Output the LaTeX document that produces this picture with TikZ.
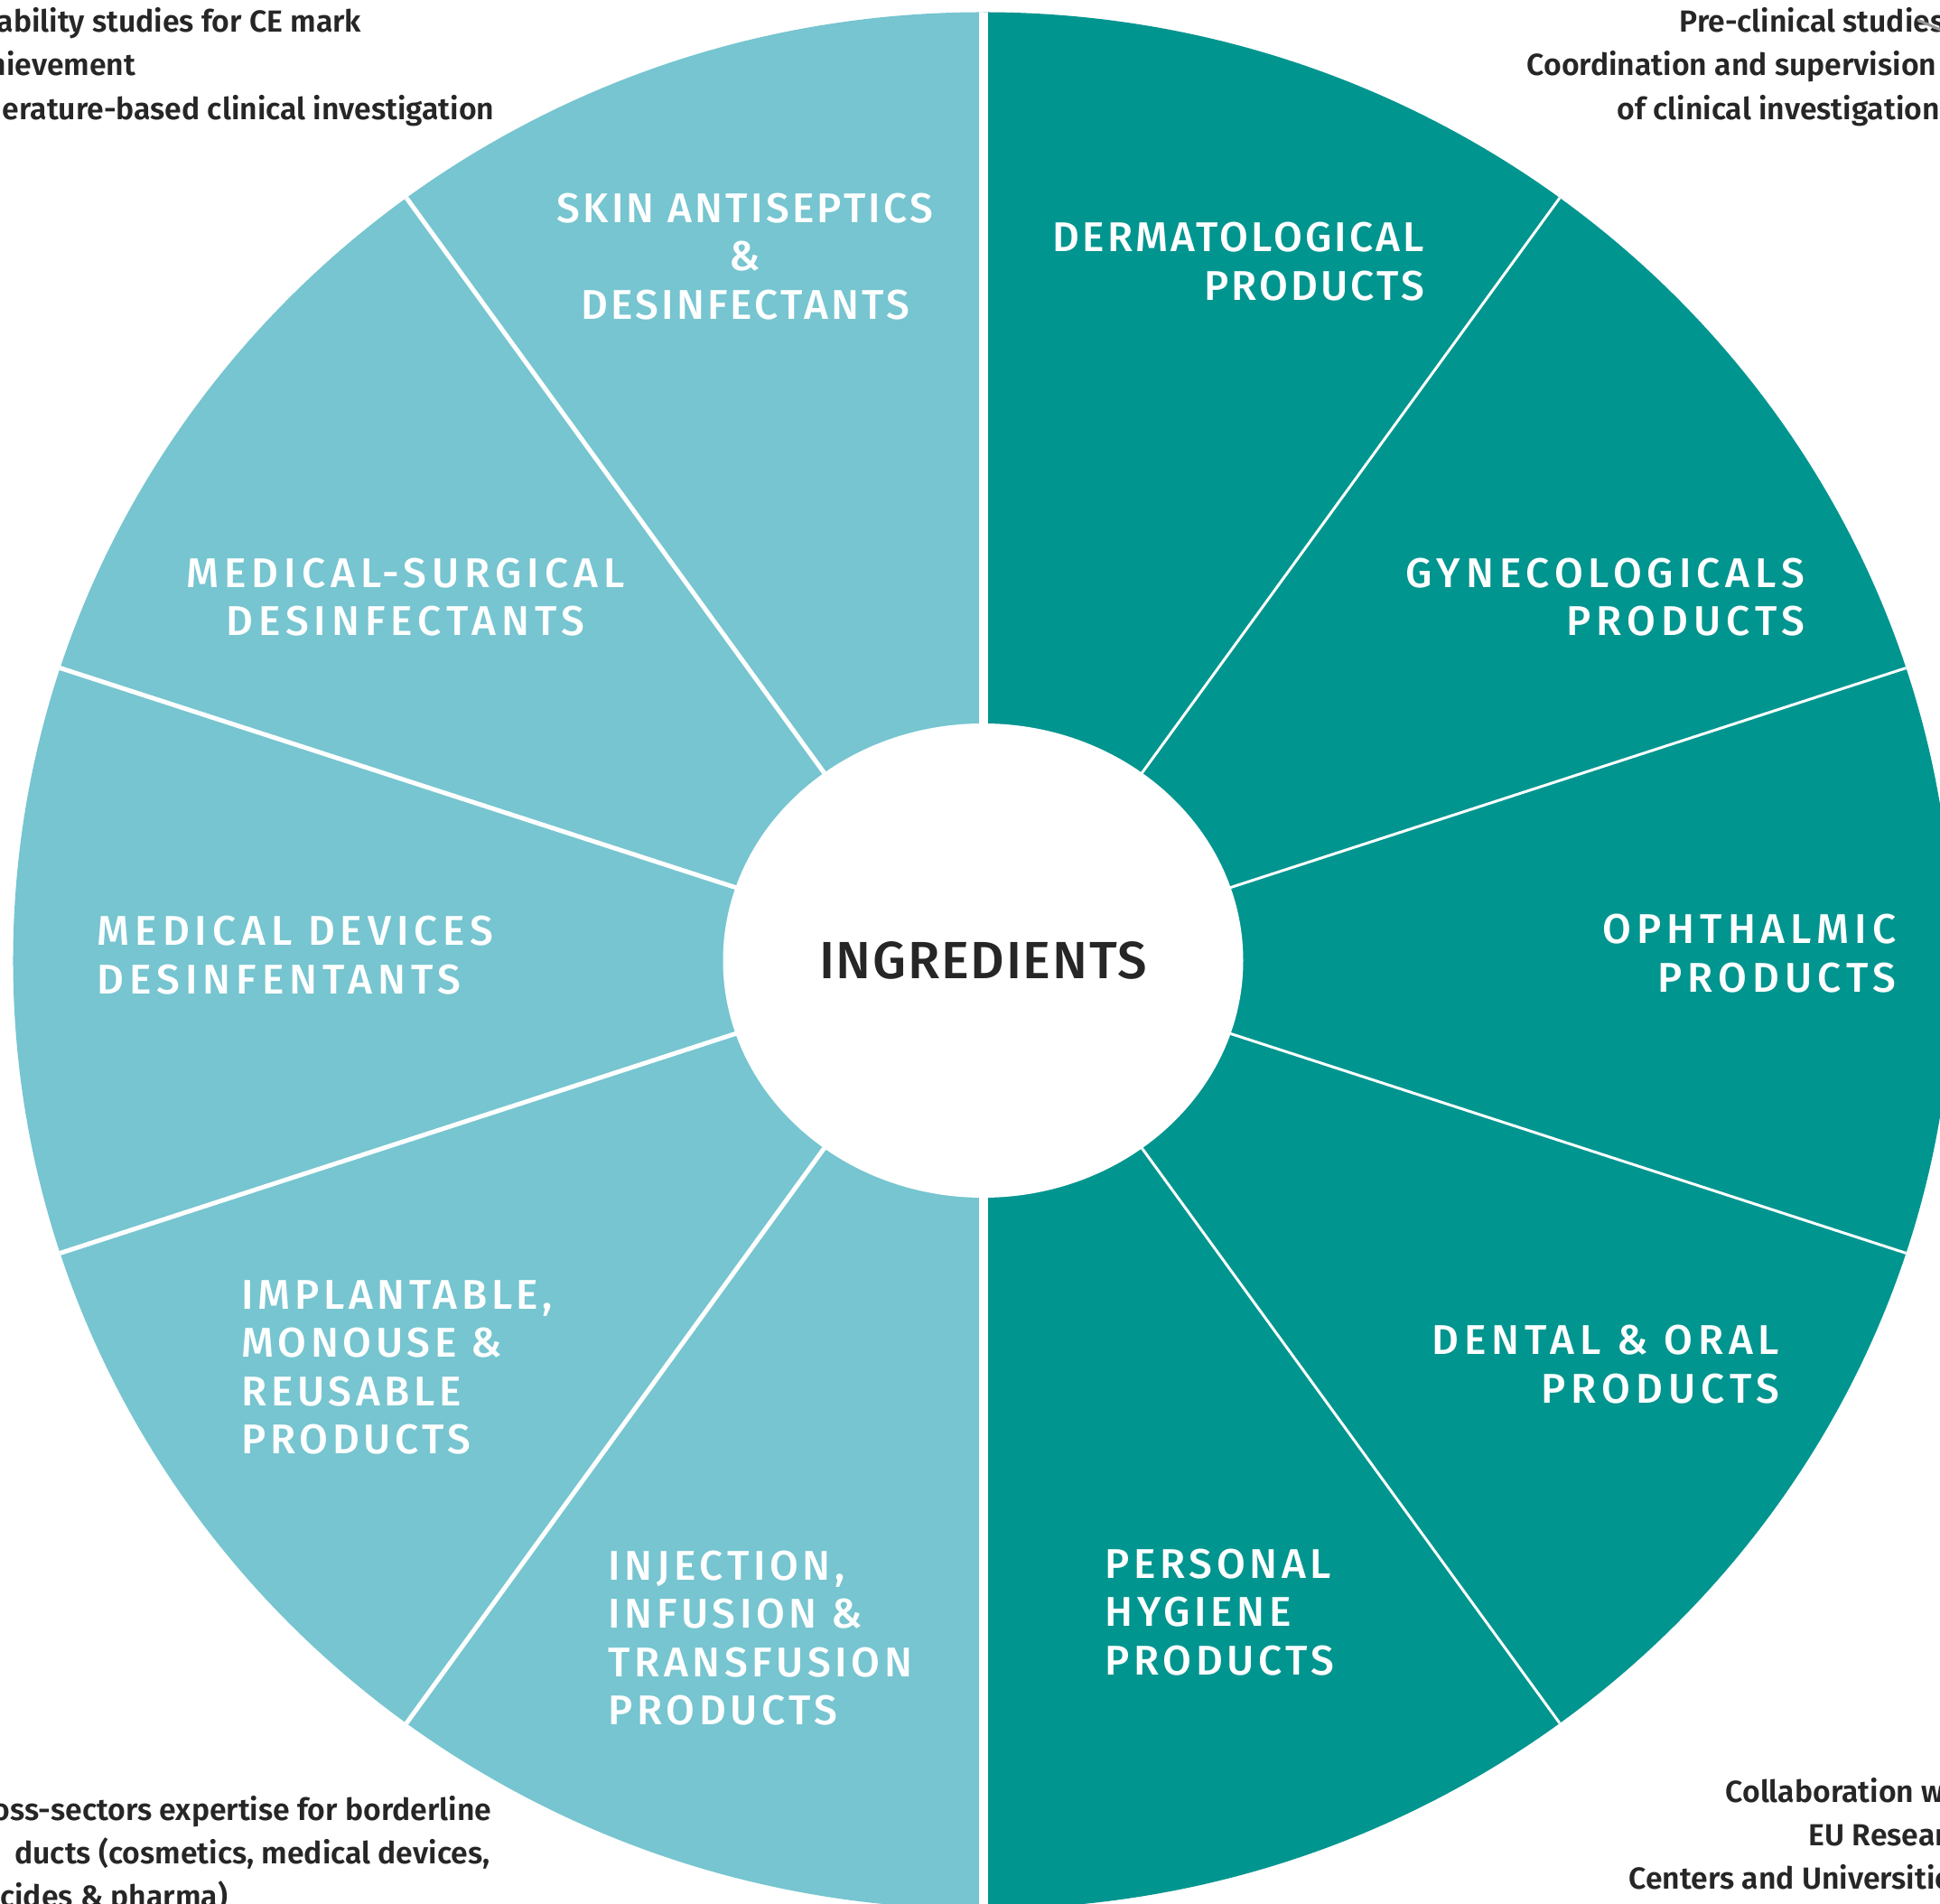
\documentclass[tikz,border=0pt]{standalone}
\usepackage{fontspec}
\setmainfont{Fira Sans}
\newfontfamily\labelfont[LetterSpace=10]{Fira Sans Medium}
\newfontfamily\tightfont[LetterSpace=7]{Fira Sans Medium}
\newfontfamily\widefont[LetterSpace=13]{Fira Sans Medium}
\newfontfamily\corefont[LetterSpace=3]{Fira Sans Medium}
\newfontfamily\notefont{Fira Sans SemiBold}
\usetikzlibrary{shapes.geometric}
\definecolor{lightteal}{HTML}{76C5D0}
\definecolor{darkteal}{HTML}{00958F}
\definecolor{inkgray}{HTML}{262626}

\begin{document}
\begin{tikzpicture}[
  sector/.style = {text=white, inner sep=0pt, font=\labelfont\fontsize{13.1}{15.2}\selectfont},
  tight/.style = {font=\tightfont\fontsize{13.1}{15.2}\selectfont},
  wide/.style = {font=\widefont\fontsize{13.1}{15.2}\selectfont},
  note/.style = {text=inkgray, inner sep=0pt, font=\notefont\fontsize{9.6}{13.8}\selectfont}]
\useasboundingbox (-10.885,-10.445) rectangle (10.595,10.635);
\def\rx{10.74}
\def\ry{10.50}
% the two halves of the wheel
\fill[lightteal] (0,-\ry) arc (270:90:\rx cm and \ry cm) -- cycle;
\fill[darkteal] (0,\ry) arc (90:-90:\rx cm and \ry cm) -- cycle;
\begin{scope}
\clip (0,0) ellipse (\rx cm and \ry cm);
\draw[white, line width=1mm] (0,-11) -- (0,11);
\foreach \a in {126,162,198,234} \draw[white, line width=0.5mm] (-0.25,0) -- ++(\a:11);
\foreach \a in {54,18,-18,-54} \draw[white, line width=0.3mm] (0.25,0) -- ++(\a:11);
\end{scope}
\node[ellipse, fill=white, minimum width=5.76cm, minimum height=5.25cm, inner sep=0pt,
  text=inkgray, font=\corefont\fontsize{16.5}{18}\selectfont] (core) at (0,0) {INGREDIENTS};

% dark half
\node[sector, tight, anchor=east, align=right] (derm) at (4.895,7.74) {DERMATOLOGICAL\\PRODUCTS};
\node[sector, wide, anchor=east, align=right] (gyn) at (9.105,4.025) {GYNECOLOGICALS\\PRODUCTS};
\node[sector, wide, anchor=east, align=right] (oph) at (10.115,0.08) {OPHTHALMIC\\PRODUCTS};
\node[sector, wide, anchor=east, align=right] (dental) at (8.825,-4.47) {DENTAL \& ORAL\\PRODUCTS};
\node[sector, anchor=west, align=left] (hygiene) at (1.345,-7.215) {PERSONAL\\HYGIENE\\PRODUCTS};
% light half
\node[sector, anchor=west, align=left] (injection) at (-4.155,-7.5) {INJECTION,\\INFUSION \&\\TRANSFUSION\\PRODUCTS};
\node[sector, anchor=west, align=left] (implant) at (-8.215,-4.505) {IMPLANTABLE,\\MONOUSE \&\\REUSABLE\\PRODUCTS};
\node[sector, wide, anchor=west, align=left] (devices) at (-9.815,0.06) {MEDICAL DEVICES\\DESINFENTANTS};
\node[sector, wide, align=center] (surgical) at (-6.395,4.025) {MEDICAL-SURGICAL\\DESINFECTANTS};
\node[sector, tight, align=center] (skin) at (-2.635,7.795) {SKIN ANTISEPTICS\\\&\\DESINFECTANTS};

% notes in the corners
\node[note, anchor=base east] (feasib) at (-6.875,10.275) {ability studies for CE mark};
\node[note, anchor=base east] (achieve) at (-9.375,9.795) {hievement};
\node[note, anchor=base east] (literat) at (-5.405,9.305) {erature-based clinical investigation};
\node[note, anchor=base west] (preclin) at (7.705,10.275) {Pre-clinical studies};
\node[note, anchor=base west] (coord) at (6.015,9.795) {Coordination and supervision};
\node[note, anchor=base west] (ofclin) at (7.015,9.305) {of clinical investigation};
\node[note, anchor=base east] (cross) at (-5.435,-9.515) {oss-sectors expertise for borderline};
\node[note, anchor=base east] (ducts) at (-5.455,-9.995) {ducts (cosmetics, medical devices,};
\node[note, anchor=base east] (cides) at (-8.355,-10.475) {cides \& pharma)};
\node[note, anchor=base west] (collab) at (8.215,-9.315) {Collaboration with};
\node[note, anchor=base west] (eures) at (9.135,-9.795) {EU Research};
\node[note, anchor=base west] (centers) at (7.145,-10.275) {Centers and Universities};
\coordinate (leadin) at (10.345,10.415);
\coordinate (leadout) at (10.60,10.305);
\draw[gray!80, line width=0.3mm] (leadin) -- (leadout);
\end{tikzpicture}
\end{document}
